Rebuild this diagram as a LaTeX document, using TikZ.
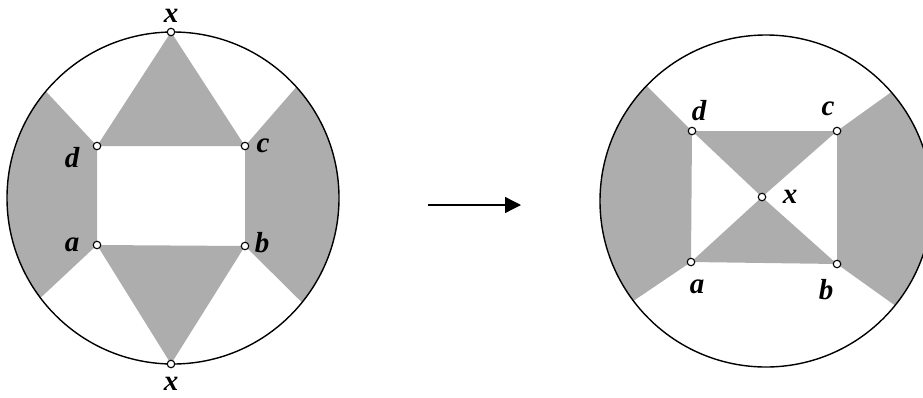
\documentclass[tikz,border=0pt]{standalone}
\usepackage{fontspec}
\setmainfont{Liberation Serif}
\usetikzlibrary{arrows.meta,calc}
\begin{document}
\begin{tikzpicture}[x=1pt,y=-1pt,
  shade/.style={fill=black!32,draw=none},
  rim/.style={draw=black,line width=1.4pt},
  pt/.style={circle,draw=black,fill=white,line width=1.1pt,inner sep=0pt,minimum size=7.5pt},
  lbl/.style={font=\fontsize{29}{29}\selectfont\bfseries\itshape,inner sep=0pt}]
\useasboundingbox (0,0) rectangle (923,397);
% ---------- left disc ----------
\coordinate (L) at (173,198);
\coordinate (Ld) at (97,146);
\coordinate (Lc) at (245,146);
\coordinate (La) at (97,245);
\coordinate (Lb) at (245,246);
\coordinate (Lxt) at (171,32);
\coordinate (Lxb) at (171,364);
\fill[shade] (Lxt) -- (Ld) -- (Lc) -- cycle;
\fill[shade] (Lxb) -- (La) -- (Lb) -- cycle;
\fill[shade] (Ld) -- ($(L)+(220:166)$) arc[start angle=220,end angle=143,radius=166] -- (La) -- cycle;
\fill[shade] (Lc) -- ($(L)+(-42:166)$) arc[start angle=-42,end angle=39,radius=166] -- (Lb) -- cycle;
\draw[rim] (L) circle[radius=166];
\node[pt] (ld) at (Ld) {};
\node[pt] (lc) at (Lc) {};
\node[pt] (la) at (La) {};
\node[pt] (lb) at (Lb) {};
\node[pt] (lxt) at (Lxt) {};
\node[pt] (lxb) at (Lxb) {};
\node[lbl] (tld) at (72,158) {d};
\node[lbl] (tlc) at (263,146) {c};
\node[lbl] (tla) at (72,245) {a};
\node[lbl] (tlb) at (262,243) {b};
\node[lbl] (tlxt) at (171,16) {x};
\node[lbl] (tlxb) at (171,384) {x};
% ---------- arrow ----------
\coordinate (A1) at (428,205);
\coordinate (A2) at (521,205);
\draw[line width=1.3pt,-{Triangle[length=16pt,width=16pt]}] (A1) -- (A2);
% ---------- right disc ----------
\coordinate (R) at (766,201);
\coordinate (Rd) at (692,131);
\coordinate (Rc) at (837,131);
\coordinate (Ra) at (691,262);
\coordinate (Rb) at (837,264);
\coordinate (Rx) at (762,197);
\fill[shade] (Rx) -- (Rd) -- (Rc) -- cycle;
\fill[shade] (Rx) -- (Ra) -- (Rb) -- cycle;
\fill[shade] (Rd) -- ($(R)+(224:166)$) arc[start angle=224,end angle=143,radius=166] -- (Ra) -- cycle;
\fill[shade] (Rc) -- ($(R)+(-41:166)$) arc[start angle=-41,end angle=39,radius=166] -- (Rb) -- cycle;
\draw[rim] (R) circle[radius=166];
\node[pt] (rd) at (Rd) {};
\node[pt] (rc) at (Rc) {};
\node[pt] (ra) at (Ra) {};
\node[pt] (rb) at (Rb) {};
\node[pt] (rx) at (Rx) {};
\node[lbl] (trd) at (699,111) {d};
\node[lbl] (trc) at (828,109) {c};
\node[lbl] (tra) at (697,287) {a};
\node[lbl] (trb) at (826,290) {b};
\node[lbl] (trx) at (790,197) {x};
\end{tikzpicture}
\end{document}
